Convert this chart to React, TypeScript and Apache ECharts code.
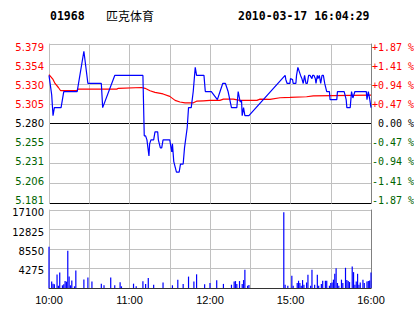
import React, { useEffect, useRef } from "react";
import * as echarts from "echarts";

// ---- data ----
const stockCode = "01968";
const stockName = "匹克体育";
const stamp = "2010-03-17 16:04:29";
const prevClose = 5.28;

const priceTicks = [5.181, 5.20575, 5.2305, 5.25525, 5.28, 5.30475, 5.3295, 5.35425, 5.379];
const priceLabels = ["5.181", "5.206", "5.231", "5.255", "5.280", "5.305", "5.330", "5.354", "5.379"];
const pctLabels = ["-1.87 %", "-1.41 %", "-0.94 %", "-0.47 %", " 0.00 %", "+0.47 %", "+0.94 %", "+1.41 %", "+1.87 %"];
const timeLabels = ["10:00", "", "11:00", "", "12:00", "", "15:00", "", "16:00"];
const volumeTicks = [4275, 8550, 12825, 17100];
const volumeLabels = ["4275", "8550", "12825", "17100"];

// [minute index from 10:00 (trading minutes), price]
const priceData: [number, number][] = [
  [0, 5.34], [2, 5.316], [3, 5.29], [4, 5.3], [9, 5.3], [11, 5.32], [21, 5.32], [26, 5.37], [29, 5.33],
  [39, 5.33], [40, 5.3], [49, 5.34], [70, 5.34], [71, 5.265], [72, 5.265], [73, 5.26], [74.5, 5.24],
  [75, 5.255], [76, 5.26], [78, 5.26], [79, 5.27], [81, 5.27], [81.5, 5.26], [83, 5.25], [84, 5.25],
  [85, 5.26], [90, 5.26], [91, 5.25], [91.5, 5.245], [92, 5.255], [93, 5.233], [95, 5.22], [97, 5.22],
  [98, 5.23], [100, 5.23], [101, 5.25], [103, 5.275], [104, 5.3], [106, 5.3], [107.5, 5.32], [109, 5.35],
  [109.5, 5.345], [110, 5.34], [115.5, 5.34], [116.5, 5.32], [121, 5.32], [125.5, 5.31], [127.5, 5.32],
  [129.5, 5.33], [131.5, 5.33], [133.5, 5.32], [136, 5.3], [140, 5.3], [141, 5.32], [142.5, 5.307],
  [143.5, 5.309], [144, 5.29], [145, 5.3], [146, 5.29], [149, 5.29],
  [176, 5.34], [176.5, 5.335], [177.5, 5.33], [179.5, 5.33], [180, 5.336], [181.5, 5.335], [182, 5.33],
  [184, 5.33], [184.5, 5.34], [185.5, 5.35], [186.5, 5.345], [187.5, 5.34], [188.5, 5.336], [189.5, 5.33],
  [190.5, 5.34], [191.5, 5.33], [192.5, 5.33], [193.5, 5.34], [194.5, 5.34], [196, 5.336], [196.5, 5.34],
  [197.5, 5.34], [198.5, 5.336], [199, 5.33], [200, 5.34], [200.5, 5.336], [201.5, 5.34], [202.5, 5.33],
  [203.5, 5.34], [204.5, 5.34], [205.5, 5.33], [207, 5.32], [209, 5.32], [209.5, 5.31], [214.5, 5.31],
  [215, 5.32], [220, 5.32], [221.5, 5.31], [222, 5.3], [224.5, 5.3], [225.5, 5.32], [226.5, 5.312],
  [228, 5.32], [236.5, 5.32], [237, 5.31], [238, 5.32], [239, 5.311], [240, 5.3],
];

const avgData: [number, number][] = [
  [0, 5.341], [3, 5.335], [4.5, 5.33], [7, 5.325], [8.7, 5.321], [20.6, 5.321], [21.8, 5.323], [50.5, 5.323],
  [51.7, 5.324], [69, 5.325], [71.6, 5.324], [75.3, 5.321], [79, 5.319], [85, 5.317], [90, 5.314],
  [94, 5.309], [97.6, 5.307], [101.4, 5.306], [107.6, 5.306], [110, 5.308], [115, 5.3085], [120, 5.309],
  [127.4, 5.309], [130, 5.3106], [137.4, 5.3106], [142.4, 5.309], [155, 5.309], [157.3, 5.3106],
  [164.7, 5.3103], [172.2, 5.3123], [179.6, 5.3127], [192, 5.3135], [197, 5.3147], [240, 5.3156],
];

const volumeData: [number, number][] = [
  [0, 9060], [2, 1450], [3, 950], [4, 800], [6, 2980], [7, 520], [8, 3410], [10, 590], [11, 800], [12, 1520],
  [13, 1390], [14, 8190], [15, 2540], [16, 590], [17, 1670], [19, 370], [20, 3850], [26, 1890], [29, 2320],
  [32, 1450], [39, 950], [41, 590], [46, 2320], [49, 590], [53, 1240], [54, 370], [63, 950], [65, 370],
  [70, 1500], [72, 900], [74, 2200], [78, 700], [85, 1200], [92, 600], [96, 1800], [100, 900], [104, 2500],
  [108, 1400], [110, 3000], [116, 800], [120, 1100], [125, 1700], [130, 900],
  [136, 720], [138, 1430], [139, 1520], [140, 870], [142, 1520], [144, 870], [145, 1740], [146, 3980],
  [148, 500], [149, 650], [175, 16600], [176, 720], [178, 500], [181, 2680], [182, 500], [185, 1100],
  [186, 1590], [187, 1100], [188, 500], [189, 1740], [190, 720], [192, 1230], [193, 2900], [195, 500],
  [196, 3980], [198, 720], [200, 2900], [201, 500], [203, 870], [204, 1590], [206, 1590], [207, 1590],
  [209, 500], [210, 1100], [211, 1230], [212, 1830], [213, 3110], [214, 4350], [215, 1100], [216, 500],
  [218, 1830], [219, 1100], [221, 4430], [222, 1740], [223, 1520], [224, 1300], [226, 4720], [227, 3480],
  [228, 720], [229, 1430], [230, 3110], [231, 720], [232, 1230], [234, 1830], [235, 1100], [237, 1430],
  [238, 1520], [239, 1650], [240, 3390],
];

const RED = "#ff0000";
const GREEN = "#006400";
const GRID = "#c0c0c0";
const BORDER = "#808080";

function nearestIndex(arr: number[], v: number): number {
  let best = 0;
  for (let i = 1; i < arr.length; i++) {
    if (Math.abs(arr[i] - v) < Math.abs(arr[best] - v)) best = i;
  }
  return best;
}
function labelColor(v: any): string {
  const n = Number(v);
  if (Math.abs(n - prevClose) < 1e-6) return "#000000";
  return n > prevClose ? RED : GREEN;
}

export default function App() {
  const ref = useRef<HTMLDivElement>(null);
  useEffect(() => {
    if (!ref.current) return;
    const chart = echarts.init(ref.current, undefined, { renderer: "svg" });
    const splitColors = priceTicks.map((t) => (t === prevClose || t === priceTicks[0] ? "#000000" : GRID));
    const pMin = priceTicks[0];
    const pMax = priceTicks[priceTicks.length - 1];
    // label-only axes: slightly wider extent so labels sit like the reference's
    const labelMin = 5.1769;
    const labelMax = 5.3829;
    const hidden = { axisLine: { show: false }, axisTick: { show: false }, splitLine: { show: false } };
    chart.setOption({
      animation: false,
      backgroundColor: "#ffffff",
      graphic: [
        { type: "text", left: 50, top: 10, style: { text: stockCode, fill: "#000", font: "bold 11.5px 'DejaVu Sans Mono'" } },
        { type: "text", left: 106, top: 9, style: { text: stockName, fill: "#000", font: "12px 'Noto Sans CJK SC'" } },
        { type: "text", left: 238, top: 10, style: { text: stamp, fill: "#000", font: "bold 11.5px 'DejaVu Sans Mono'" } },
      ],
      grid: [
        { left: 49, top: 44, width: 322, height: 159.5, outerBoundsMode: "none", containLabel: false },
        { left: 49, top: 210, width: 322, height: 78, outerBoundsMode: "none", containLabel: false },
      ],
      xAxis: [
        {
          type: "value", gridIndex: 0, min: 0, max: 240, interval: 30,
          axisLabel: { show: false }, axisTick: { show: false }, axisLine: { show: false },
          splitLine: { show: true, lineStyle: { color: GRID, width: 1 } },
        },
        {
          type: "value", gridIndex: 1, min: 0, max: 240, interval: 30,
          axisLabel: {
            show: true, formatter: (v: number) => timeLabels[Math.round(v / 30)] || "",
            color: "#000", fontFamily: "Liberation Sans", fontSize: 11, margin: 6, hideOverlap: false,
          },
          axisTick: { show: false },
          axisLine: { show: true, onZero: false, lineStyle: { color: "#333333", width: 1 } },
          splitLine: { show: true, lineStyle: { color: GRID, width: 1 } },
        },
      ],
      yAxis: [
        {
          type: "value", gridIndex: 0, position: "left", min: pMin, max: pMax,
          axisTick: { show: false, customValues: priceTicks },
          axisLabel: { show: false, customValues: priceTicks },
          axisLine: { show: true, lineStyle: { color: GRID, width: 1 } },
          splitLine: { show: true, lineStyle: { color: splitColors, width: 1 } },
        },
        {
          type: "value", gridIndex: 0, position: "right", min: pMin, max: pMax,
          axisTick: { show: false }, axisLabel: { show: false },
          axisLine: { show: true, lineStyle: { color: BORDER, width: 1 } },
          splitLine: { show: false },
        },
        {
          type: "value", gridIndex: 0, position: "left", min: labelMin, max: labelMax, ...hidden,
          axisTick: { show: false, customValues: priceTicks },
          axisLabel: {
            customValues: priceTicks, formatter: (v: number) => priceLabels[nearestIndex(priceTicks, v)],
            color: (v: any) => labelColor(v), fontFamily: "DejaVu Sans", fontSize: 10, margin: 5, hideOverlap: false,
          },
        },
        {
          type: "value", gridIndex: 0, position: "right", min: labelMin, max: labelMax, ...hidden,
          axisTick: { show: false, customValues: priceTicks },
          axisLabel: {
            customValues: priceTicks, formatter: (v: number) => pctLabels[nearestIndex(priceTicks, v)],
            color: (v: any) => labelColor(v), fontFamily: "DejaVu Sans Mono", fontSize: 10, margin: 1, hideOverlap: false,
          },
        },
        {
          type: "value", gridIndex: 1, position: "left", min: 0, max: 17100, interval: 4275,
          axisTick: { show: false }, axisLabel: { show: false },
          axisLine: { show: true, lineStyle: { color: GRID, width: 1 } },
          splitLine: { show: true, lineStyle: { color: GRID, width: 1 } },
        },
        {
          type: "value", gridIndex: 1, position: "right", min: 0, max: 17100, interval: 4275,
          axisTick: { show: false }, axisLabel: { show: false },
          axisLine: { show: true, lineStyle: { color: BORDER, width: 1 } },
          splitLine: { show: false },
        },
        {
          type: "value", gridIndex: 1, position: "left", min: 313, max: 17771, ...hidden,
          axisTick: { show: false, customValues: volumeTicks },
          axisLabel: {
            customValues: volumeTicks, formatter: (v: number) => volumeLabels[nearestIndex(volumeTicks, v)],
            color: "#000", fontFamily: "DejaVu Sans", fontSize: 10, margin: 5, hideOverlap: false,
          },
        },
      ],
      series: [
        {
          type: "line", xAxisIndex: 0, yAxisIndex: 0, data: avgData, showSymbol: false, z: 3,
          lineStyle: { color: RED, width: 1.2 }, silent: true,
        },
        {
          type: "line", xAxisIndex: 0, yAxisIndex: 0, data: priceData, showSymbol: false, z: 4,
          lineStyle: { color: "#0000ff", width: 1.2 }, silent: true,
        },
        {
          type: "bar", xAxisIndex: 1, yAxisIndex: 4, data: volumeData, barWidth: 1.2,
          itemStyle: { color: "#0000ff" }, silent: true,
        },
      ],
    });
    return () => chart.dispose();
  }, []);
  return <div ref={ref} style={{ position: "fixed", left: 0, top: 0, width: 414, height: 314 }} />;
}
